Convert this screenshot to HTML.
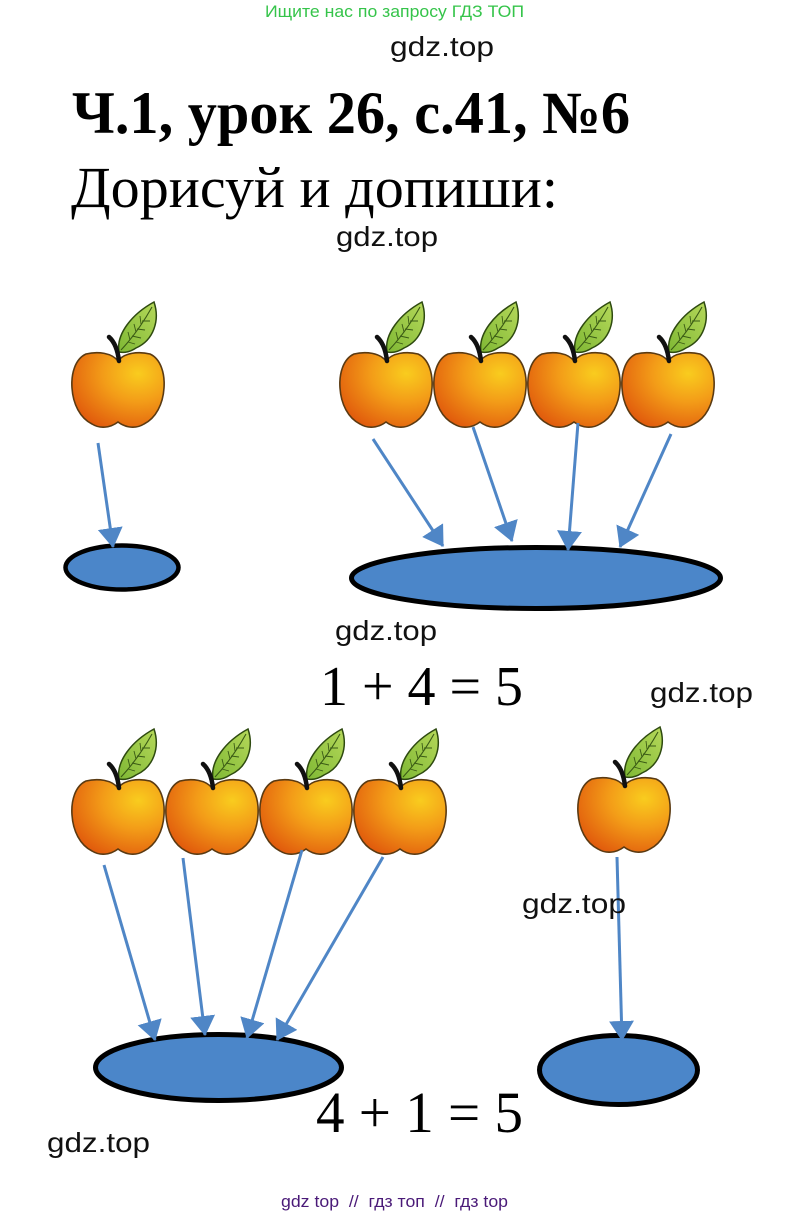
<!DOCTYPE html>
<html>
<head>
<meta charset="utf-8">
<style>
html,body{margin:0;padding:0;background:#fff;}
svg{display:block;}
.g{font-family:"Liberation Sans",sans-serif;font-size:28px;fill:#111;}
.s{font-family:"Liberation Serif",serif;fill:#000;}
</style>
</head>
<body>
<svg width="790" height="1217" viewBox="0 0 790 1217" xmlns="http://www.w3.org/2000/svg">
<defs>
  <radialGradient id="ag" cx="0.72" cy="0.28" r="0.85">
    <stop offset="0" stop-color="#f9cc1e"/>
    <stop offset="0.45" stop-color="#f39c18"/>
    <stop offset="1" stop-color="#e0580c"/>
  </radialGradient>
  <linearGradient id="lg" x1="0" y1="1" x2="1" y2="0">
    <stop offset="0" stop-color="#7fb834"/>
    <stop offset="1" stop-color="#b5d85a"/>
  </linearGradient>
  <g id="apple">
    <path d="M46 59 C40 51,26 49,14 52 C3 57,-1 72,0 86 C1 102,8 116,20 122 C28 127,38 126,46 120 C54 126,64 127,72 122 C84 116,91 102,92 86 C93 72,89 57,78 52 C66 49,52 51,46 59 Z" fill="url(#ag)" stroke="#5a3a12" stroke-width="1.6"/>
    <path d="M47 50 C44 32,60 12,82 0 C88 18,82 38,64 46 C58 50,52 51,47 50 Z" fill="url(#lg)" stroke="#2e4a10" stroke-width="1.5"/>
    <path d="M49 48 Q66 30 80 5" fill="none" stroke="#3a5a15" stroke-width="1.1"/>
    <path d="M56 40 L63 42 M60 34 L69 36 M65 27 L73 28 M70 19 L78 19 M58 38 L56 30 M64 30 L62 22 M69 22 L68 14" fill="none" stroke="#3a5a15" stroke-width="0.9"/>
    <path d="M37 35 Q45 42 47 59" fill="none" stroke="#111" stroke-width="4.5" stroke-linecap="round"/>
  </g>
  <marker id="ah" viewBox="0 0 20 25" markerWidth="20" markerHeight="25" refX="19" refY="12.5" orient="auto" markerUnits="userSpaceOnUse">
    <path d="M0 0 L20 12.5 L0 25 Z" fill="#4f86c6"/>
  </marker>
</defs>

<rect width="790" height="1217" fill="#fff"/>

<!-- header -->
<text x="265" y="17" font-family="Liberation Sans, sans-serif" font-size="17" fill="#35c44a" textLength="259" lengthAdjust="spacingAndGlyphs">Ищите нас по запросу ГДЗ ТОП</text>
<text class="g" x="390" y="56" textLength="104" lengthAdjust="spacingAndGlyphs">gdz.top</text>

<text class="s" x="72" y="133" font-size="60" font-weight="bold" textLength="558" lengthAdjust="spacingAndGlyphs">Ч.1, урок 26, с.41, №6</text>
<text class="s" x="71" y="207" font-size="58" textLength="487" lengthAdjust="spacingAndGlyphs">Дорисуй и допиши:</text>
<text class="g" x="336" y="246" textLength="102" lengthAdjust="spacingAndGlyphs">gdz.top</text>

<!-- apples top -->
<use href="#apple" x="72" y="302"/>
<use href="#apple" x="340" y="302"/>
<use href="#apple" x="434" y="302"/>
<use href="#apple" x="528" y="302"/>
<use href="#apple" x="622" y="302"/>

<!-- ovals top -->
<ellipse cx="122" cy="567.5" rx="56.5" ry="22" fill="#4b86c9" stroke="#000" stroke-width="4.5"/>
<ellipse cx="536" cy="578" rx="184.5" ry="30.5" fill="#4b86c9" stroke="#000" stroke-width="5"/>

<!-- arrows top -->
<g stroke="#4f86c6" stroke-width="3" marker-end="url(#ah)">
  <line x1="98" y1="443" x2="113" y2="547"/>
  <line x1="373" y1="439" x2="443" y2="546"/>
  <line x1="473" y1="427" x2="512" y2="541"/>
  <line x1="578" y1="423" x2="568" y2="550"/>
  <line x1="671" y1="434" x2="620" y2="547"/>
</g>

<text class="g" x="335" y="640" textLength="102" lengthAdjust="spacingAndGlyphs">gdz.top</text>
<text class="s" x="320" y="705" font-size="56" textLength="203" lengthAdjust="spacingAndGlyphs">1 + 4 = 5</text>
<text class="g" x="650" y="702" textLength="103" lengthAdjust="spacingAndGlyphs">gdz.top</text>

<!-- apples bottom -->
<use href="#apple" x="72" y="729"/>
<use href="#apple" x="166" y="729"/>
<use href="#apple" x="260" y="729"/>
<use href="#apple" x="354" y="729"/>
<use href="#apple" x="578" y="727"/>

<!-- ovals bottom -->
<ellipse cx="218.5" cy="1067.5" rx="123" ry="33" fill="#4b86c9" stroke="#000" stroke-width="5"/>
<ellipse cx="618.5" cy="1070" rx="79" ry="34.5" fill="#4b86c9" stroke="#000" stroke-width="5"/>

<!-- arrows bottom -->
<g stroke="#4f86c6" stroke-width="3" marker-end="url(#ah)">
  <line x1="104" y1="865" x2="155" y2="1040"/>
  <line x1="183" y1="858" x2="205" y2="1035"/>
  <line x1="302" y1="850" x2="247" y2="1038"/>
  <line x1="383" y1="857" x2="277" y2="1040"/>
  <line x1="617" y1="857" x2="622" y2="1040"/>
</g>

<text class="g" x="522" y="913" textLength="104" lengthAdjust="spacingAndGlyphs">gdz.top</text>
<text class="s" x="316" y="1132" font-size="58" textLength="207" lengthAdjust="spacingAndGlyphs">4 + 1 = 5</text>
<text class="g" x="47" y="1152" textLength="103" lengthAdjust="spacingAndGlyphs">gdz.top</text>

<!-- footer -->
<text x="281" y="1207" font-family="Liberation Sans, sans-serif" font-size="17" fill="#4a1a78" style="white-space:pre" textLength="227" lengthAdjust="spacingAndGlyphs">gdz top  //  гдз топ  //  гдз top</text>
</svg>
</body>
</html>
